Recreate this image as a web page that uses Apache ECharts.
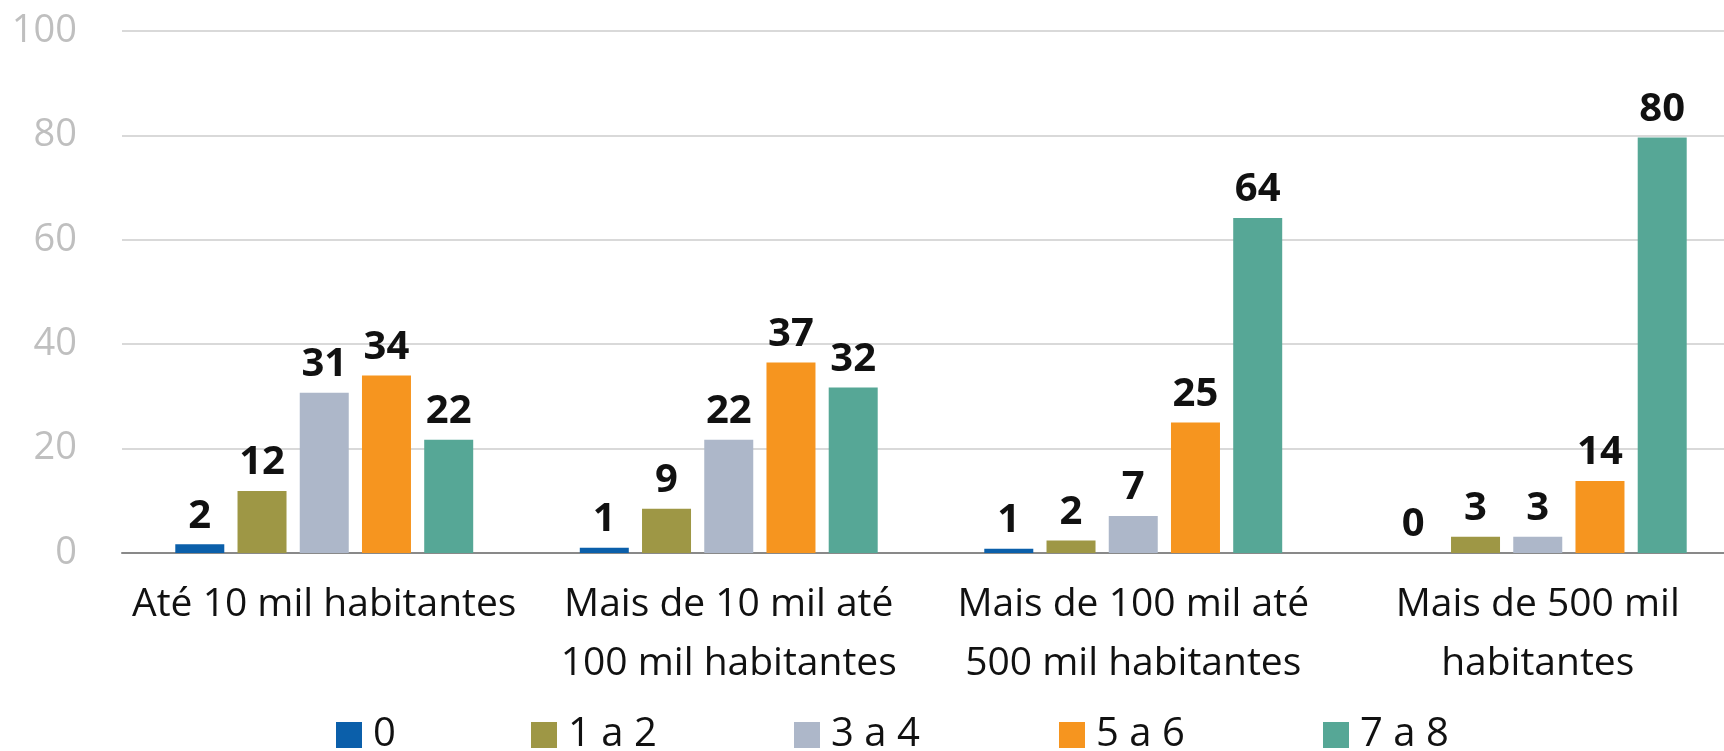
<!DOCTYPE html>
<html>
<head>
<meta charset="utf-8">
<script src="https://cdn.jsdelivr.net/npm/echarts@6/dist/echarts.min.js"></script>
<style>
  html, body { margin: 0; padding: 0; background: #fff; }
  #main { width: 1724px; height: 751px; }
</style>
</head>
<body>
<div id="main"></div>
<script>
// categorias (porte do município)
const categories = [
  'Até 10 mil habitantes',
  'Mais de 10 mil até\n100 mil habitantes',
  'Mais de 100 mil até\n500 mil habitantes',
  'Mais de 500 mil\nhabitantes'
]
const seriesNames = ['0', '1 a 2', '3 a 4', '5 a 6', '7 a 8']
const s0 = [1.7, 1.0, 0.8, 0]
const s12 = [11.9, 8.5, 2.4, 3.1]
const s34 = [30.7, 21.7, 7.1, 3.1]
const s56 = [34.0, 36.5, 25.0, 13.8]
const s78 = [21.7, 31.7, 64.2, 79.6]
const yTicks = [0, 20, 40, 60, 80, 100]

const colors = ['#0B5FAA', '#9E9745', '#ADB7C9', '#F6951F', '#56A796']
const font = '"Open Sans", "Noto Sans", sans-serif'
const legendLeft = [331, 526, 789, 1054, 1318]

const chart = echarts.init(document.getElementById('main'))

const makeSeries = (name, data) => ({
  name: name,
  type: 'bar',
  data: data,
  barWidth: 49,
  barGap: '27%',
  label: {
    show: true,
    position: 'top',
    distance: 8,
    color: '#111',
    fontFamily: font,
    fontWeight: 'bold',
    fontSize: 40,
    formatter: (p) => Math.round(p.value)
  }
})

// uma legenda por série, posições como no Excel
const makeLegend = (name, i) => ({
  data: [name],
  left: legendLeft[i],
  top: 710,
  itemWidth: 26,
  itemHeight: 26,
  icon: 'rect',
  textStyle: {
    fontFamily: font,
    fontSize: 40,
    color: '#111',
    padding: [0, 0, 0, 6]
  }
})

const option = {
  color: colors,
  animation: false,
  textStyle: { fontFamily: font },
  grid: {
    left: 122,
    top: 31,
    bottom: 198,
    width: 1618,
    outerBoundsMode: 'none'
  },
  legend: seriesNames.map(makeLegend),
  xAxis: {
    type: 'category',
    data: categories,
    axisLine: { lineStyle: { color: '#898989', width: 2 } },
    axisTick: { show: false },
    axisLabel: {
      interval: 0,
      margin: 22,
      fontFamily: font,
      fontSize: 39,
      lineHeight: 59,
      color: '#111'
    }
  },
  yAxis: {
    type: 'value',
    min: yTicks[0],
    max: yTicks[yTicks.length - 1],
    interval: 20,
    axisLine: { show: false },
    axisTick: { show: false },
    splitLine: { lineStyle: { color: '#D9D9D9', width: 2 } },
    axisLabel: {
      margin: 45,
      fontFamily: font,
      fontSize: 38,
      color: '#BFBFBF'
    }
  },
  series: [
    makeSeries(seriesNames[0], s0),
    makeSeries(seriesNames[1], s12),
    makeSeries(seriesNames[2], s34),
    makeSeries(seriesNames[3], s56),
    makeSeries(seriesNames[4], s78)
  ]
}

chart.setOption(option)
</script>
</body>
</html>
